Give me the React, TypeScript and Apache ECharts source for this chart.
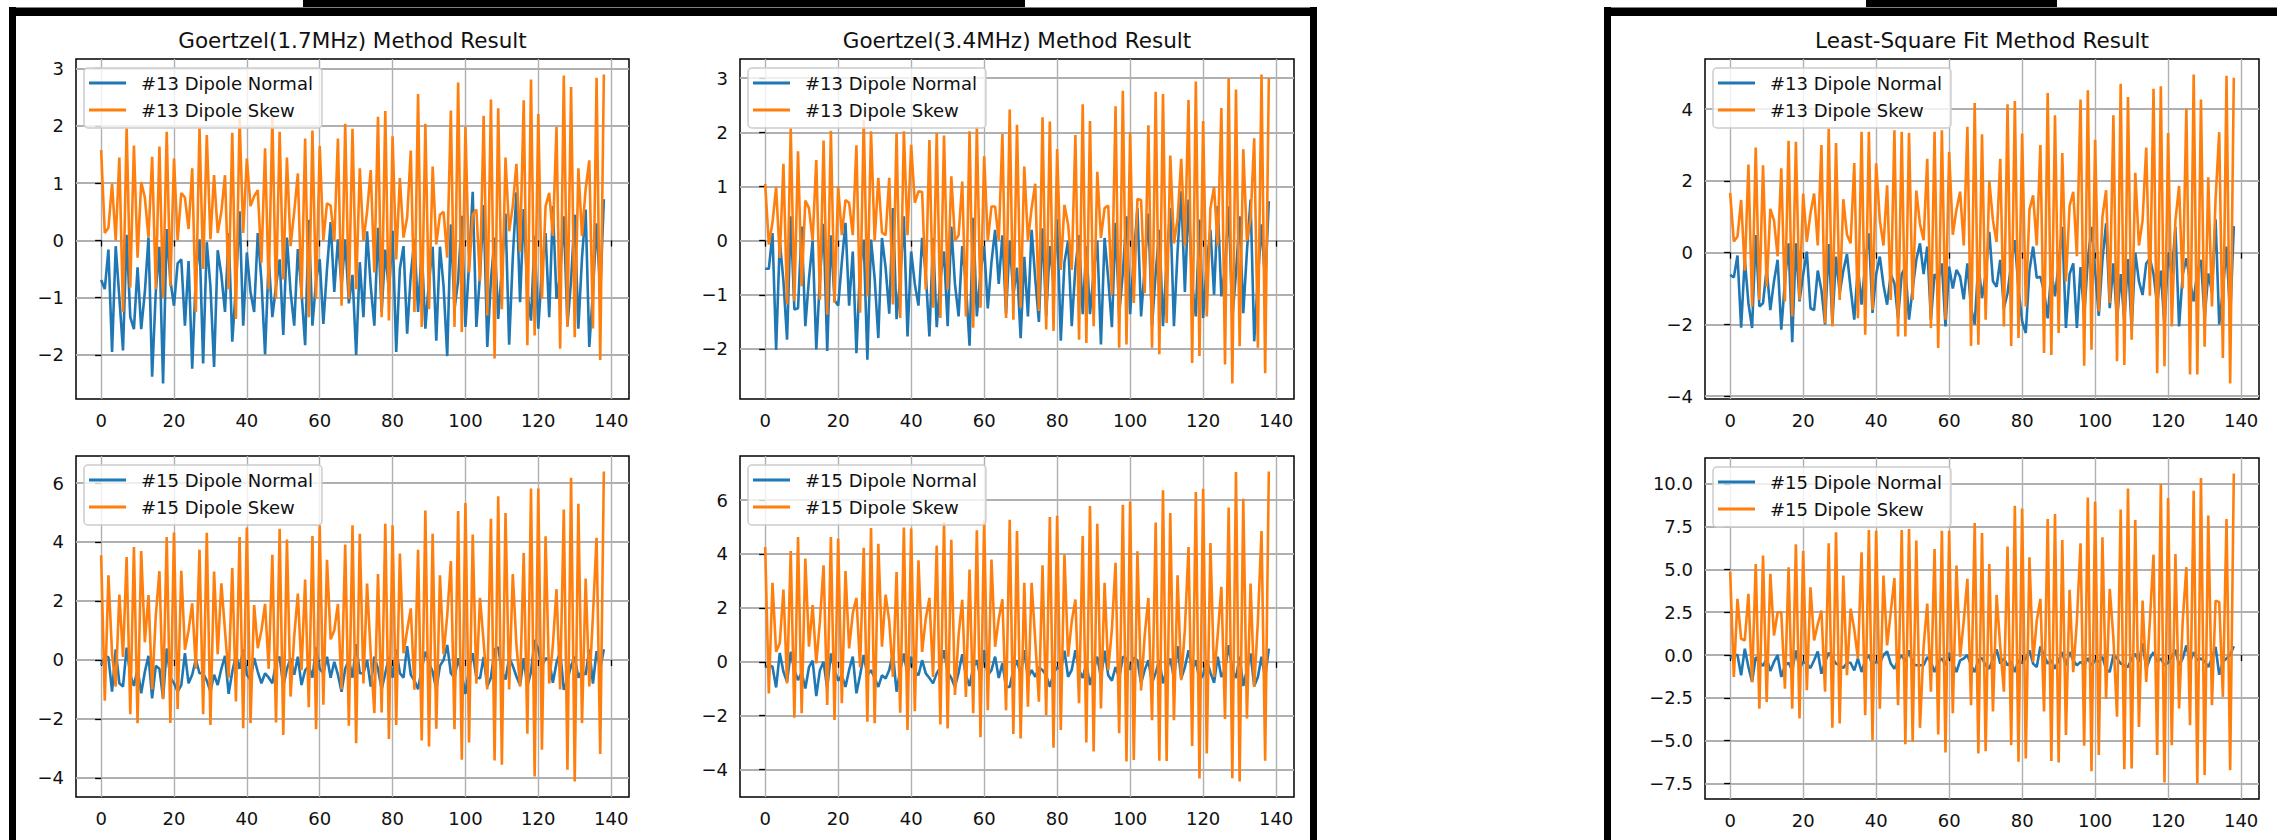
import React, { useEffect, useRef } from "react";
import * as echarts from "echarts";

const xTicks = [0, 20, 40, 60, 80, 100, 120, 140];
const yTicks1 = [-2, -1, 0, 1, 2, 3];
const yTicks2 = [-2, -1, 0, 1, 2, 3];
const yTicks3 = [-4, -2, 0, 2, 4];
const yTicks4 = [-4, -2, 0, 2, 4, 6];
const yTicks5 = [-4, -2, 0, 2, 4, 6];
const yTicks6 = [-7.5, -5, -2.5, 0, 2.5, 5, 7.5, 10];

const titles = [
  "Goertzel(1.7MHz) Method Result",
  "Goertzel(3.4MHz) Method Result",
  "Least-Square Fit Method Result",
];
const names13 = ["#13 Dipole Normal", "#13 Dipole Skew"];
const names15 = ["#15 Dipole Normal", "#15 Dipole Skew"];

const p1Skew = [1.58,0.13,0.22,0.99,0.0,1.45,-1.25,1.98,-0.82,1.66,
 -0.3,1.02,0.75,0.05,1.46,-0.85,1.64,-1.0,1.90,-0.8,
 1.43,0.0,0.83,0.75,0.2,1.26,-1.25,1.98,-0.5,1.84,
 0.02,1.14,0.13,0.5,1.14,-0.85,1.88,-1.37,2.13,0.13,
 1.43,0.6,0.77,0.88,-0.39,1.61,-0.85,2.16,-1.02,1.90,
 -0.68,1.45,-0.1,0.5,1.17,-1.02,1.78,-1.34,1.92,-1.02,
 1.65,0.0,0.65,0.61,-0.01,1.78,-1.14,2.04,-1.02,1.95,
 -0.85,1.26,-0.01,0.5,1.23,-0.56,2.16,-1.34,2.26,-1.40,
 1.82,-0.33,1.09,0.05,0.4,1.57,-1.25,2.56,-1.51,2.04,
 -1.20,1.29,-0.07,0.45,0.5,-0.3,2.27,-1.51,2.76,-1.60,
 1.98,-0.56,0.45,0.54,-0.71,2.18,-1.31,2.46,-2.06,2.31,
 -1.20,1.45,0.16,0.6,1.34,-0.2,2.45,-1.83,2.81,-1.66,
 2.21,-1.02,0.6,0.83,0.08,1.98,-1.89,2.88,-1.51,2.68,
 -1.69,1.26,0.08,0.9,1.40,-1.54,2.84,-2.09,2.9];
const p1Normal = [-0.69,-0.85,-0.16,-1.95,-0.1,-1.0,-1.92,0.1,-1.34,-1.55,
 -0.47,-1.55,-0.9,0.05,-2.38,-0.9,-0.11,-2.50,0.2,-0.7,
 -1.14,-0.4,-0.33,-1.49,-0.36,-2.24,-0.6,0.02,-2.15,-0.03,
 -0.8,-2.21,-0.17,-0.6,-1.25,0.13,-1.77,-0.8,0.51,-1.49,
 -0.21,-0.9,-1.25,0.13,-0.7,-1.99,-0.33,-1.34,-0.8,-0.33,
 -1.65,0.05,-0.9,-1.49,-0.15,-0.9,-1.83,0.36,-1.49,-0.7,
 -0.33,-1.46,-0.5,0.32,-0.9,0.02,-0.79,0.02,-1.1,-0.6,
 -2.0,-0.38,-1.34,0.16,-0.8,-1.49,0.22,-1.25,-0.16,-0.9,
 0.17,-1.95,-0.5,-0.1,-1.63,-0.6,0.02,-1.25,-0.13,-1.54,
 -0.7,-0.11,-1.75,-0.11,-0.8,-2.02,0.28,-1.20,-0.7,0.43,
 -1.51,-0.4,0.85,-1.51,-0.6,0.62,-1.86,-0.7,0.05,-1.37,
 -0.5,0.47,-1.82,-0.3,0.84,-1.08,0.55,-0.9,-1.40,0.08,
 -1.54,-0.5,0.13,-1.34,0.6,-1.02,-0.6,0.42,-1.49,-0.7,
 0.45,-1.54,-0.3,0.54,-1.86,-0.9,0.3,-0.91,0.72];

const p2Skew = [1.05,-0.07,0.33,0.99,-0.32,1.42,-1.18,2.08,-1.12,1.65,
 -0.84,0.74,0.6,0.0,1.49,-1.09,1.85,-1.37,2.03,-1.15,
 1.0,0.1,0.75,0.7,0.1,1.76,-1.33,2.23,-1.03,2.02,
 0.0,1.16,0.15,0.1,1.16,-1.18,1.99,-1.43,2.02,0.1,
 1.77,0.7,0.91,0.9,-0.9,1.86,-1.24,1.99,-1.43,1.94,
 -0.9,1.19,0.0,0.1,1.09,-1.40,2.02,-1.61,2.11,-1.24,
 1.56,0.0,0.63,0.63,0.0,1.97,-1.43,2.42,-1.46,2.14,
 -1.24,1.37,0.0,0.6,1.05,-1.30,2.28,-1.64,2.20,-1.67,
 1.69,-0.54,0.66,0.3,-0.54,1.95,-1.83,2.52,-1.89,2.21,
 -1.58,1.27,0.05,0.6,0.65,-1.0,2.48,-1.98,2.77,-1.92,
 2.0,-1.15,0.77,0.75,-0.97,2.13,-1.98,2.75,-2.10,2.71,
 -1.52,1.57,-0.05,0.4,1.51,-0.1,2.6,-2.26,2.94,-2.13,
 2.21,-1.40,0.6,0.99,-0.1,2.45,-2.29,3.0,-2.64,2.79,
 -1.95,1.69,0.0,0.4,1.89,-1.98,3.07,-2.45,3.0];
const p2Normal = [-0.52,-0.52,0.14,-2.02,0.0,-0.75,-1.83,0.45,-1.27,-1.25,
 0.26,-1.58,-0.7,0.0,-2.01,-0.7,0.31,-2.04,0.1,-1.1,
 -1.2,-0.4,0.33,-1.2,-0.2,-2.08,-0.5,0.02,-2.2,0.02,
 -0.7,-1.8,0.05,-0.5,-1.35,0.6,-1.45,-0.7,0.45,-1.77,
 -0.2,-0.8,-1.2,0.05,-0.6,-1.77,0.05,-1.6,-0.7,-0.2,
 -1.58,0.26,-0.8,-1.4,-0.1,-0.8,-1.94,0.42,-1.4,-0.6,
 -0.1,-1.25,-0.4,0.2,-0.8,0.1,-1.35,0.0,-1.0,-0.5,
 -1.8,-0.3,-1.4,0.2,-0.7,-1.5,0.23,-1.4,-0.1,-0.8,
 0.39,-1.85,-0.4,0.0,-1.58,-0.5,0.1,-1.36,-0.1,-1.36,
 -0.6,0.0,-1.92,0.05,-0.7,-1.6,0.33,-1.36,-0.6,0.45,
 -1.36,-0.3,0.6,-1.4,-0.5,0.5,-1.58,-0.6,0.2,-1.58,
 -0.4,0.6,-1.58,-0.2,0.91,-0.95,0.76,-0.8,-1.4,0.39,
 -1.43,-0.4,0.2,-1.0,0.64,-1.03,-0.5,0.64,-1.43,-0.6,
 0.45,-1.34,-0.2,0.76,-1.86,-0.7,0.3,-0.8,0.73];

const p3Skew = [1.67,0.31,0.45,1.47,-0.5,2.46,-1.5,2.93,-1.32,2.44,
 -0.95,1.22,0.9,-0.1,2.35,-1.36,3.12,-1.78,3.09,-1.32,
 1.65,0.3,1.1,1.65,0.2,3.0,-1.97,3.46,-2.06,3.06,
 -1.32,1.49,0.5,0.26,2.5,-1.83,3.37,-2.29,3.37,-1.6,
 2.49,0.9,0.2,1.88,-1.32,3.41,-2.34,3.37,-2.34,3.34,
 -1.32,1.73,0.8,0.35,2.62,-2.1,3.37,-2.66,3.41,-1.87,
 2.81,0.5,1.2,1.70,0.2,3.51,-2.6,4.17,-2.57,3.30,
 -1.87,2.0,0.9,0.3,2.62,-2.06,4.14,-2.6,4.23,-2.38,
 3.32,-1.5,1.2,1.6,0.2,3.0,-2.8,4.45,-2.85,3.83,
 -2.24,2.78,-0.8,1.3,1.7,-0.1,4.27,-3.15,4.53,-2.71,
 3.15,-1.64,1.0,1.74,-1.4,3.83,-3.03,4.71,-3.13,4.34,
 -2.43,2.23,0.2,0.9,2.93,-1.2,4.57,-3.36,4.64,-3.17,
 3.34,-2.06,0.9,1.86,-1.0,4.02,-3.40,4.97,-3.40,4.27,
 -2.62,2.1,-1.5,1.5,3.36,-2.94,4.93,-3.65,4.88];
const p3Normal = [-0.62,-0.69,-0.08,-2.09,-0.17,-1.41,-2.10,0.49,-1.50,-1.41,
 -0.44,-1.6,-0.8,-0.2,-2.15,-0.8,0.26,-2.5,0.26,-1.36,
 -0.6,0.03,-1.55,-1.60,-0.5,-1.04,-2.0,0.24,-1.97,-0.11,
 -1.13,-0.5,-0.04,-1.0,-1.87,-0.4,-1.45,-0.3,0.54,-1.68,
 -0.6,-0.11,-0.9,-1.45,-0.6,-0.85,-1.83,-0.6,-0.4,-1.87,
 -1.0,-0.2,0.26,-0.6,0.17,-1.87,-0.6,-0.8,-0.3,-2.06,
 -0.39,-1.0,-0.48,-0.67,-1.3,-0.3,-1.55,-2.0,-0.3,-1.27,
 -0.6,0.58,-0.8,-0.95,-0.2,-1.55,-1.13,-0.3,0.35,-1.0,
 -1.92,-2.24,-0.5,0.17,-0.7,-0.67,-1.08,-1.83,-0.5,-1.22,
 -0.3,0.72,-2.1,-0.6,-0.3,-2.1,-0.4,-1.78,-0.2,0.72,
 -0.5,-1.76,-0.2,0.82,-1.55,-0.3,-1.92,-0.6,-1.9,-0.18,
 -2.15,0.0,-0.8,-1.18,-0.3,-0.16,-0.6,-1.45,-0.5,-2.06,
 -0.02,-0.6,0.72,-2.06,-0.6,-0.16,-0.8,-1.36,-0.5,-0.2,
 -1.83,-0.58,-1.08,0.93,-2.0,-1.04,0.17,-1.83,0.74];

const p4Skew = [3.55,-1.38,2.87,0.2,-0.9,2.22,0.1,3.49,-1.84,3.83,
 -2.14,3.69,0.6,2.2,-1.0,1.5,3.01,-1.33,4.17,-2.14,
 4.32,-1.66,3.02,0.35,1.0,1.92,-0.3,3.74,-1.84,4.31,
 -2.2,3.0,0.2,2.6,1.0,-0.6,3.12,-1.41,4.17,-2.31,
 4.49,-2.14,1.86,0.4,1.0,1.9,-0.3,3.57,-2.12,4.45,
 -2.54,4.08,-1.24,0.8,2.25,-0.35,2.73,-1.6,4.2,-2.35,
 4.57,-1.52,3.4,0.7,1.0,1.9,-1.0,3.91,-2.23,4.57,
 -2.82,4.28,-0.8,2.59,0.2,-1.8,2.91,-1.78,4.62,-2.68,
 4.57,-2.2,3.61,0.23,1.0,1.75,-1.01,3.74,-2.73,5.07,
 -2.93,4.28,-2.33,2.87,0.2,1.5,3.35,-2.35,5.05,-3.38,
 5.32,-2.8,4.25,-0.8,2.11,0.6,-1.0,4.79,-3.41,5.55,
 -3.55,4.98,-1.0,2.91,0.5,-0.9,3.63,-2.5,5.81,-3.95,
 5.81,-3.04,4.19,-0.8,0.5,2.40,-1.0,5.1,-3.72,6.18,
 -4.12,5.3,-2.14,2.76,-0.9,1.5,4.14,-3.19,6.39];
const p4Normal = [-0.17,0.11,0.1,-1.07,0.36,-0.79,-0.9,0.42,-0.51,-0.88,
 -0.3,-1.13,-0.4,0.14,-1.3,-0.2,-0.3,-1.3,0.39,-0.6,
 -0.79,-1.07,-0.85,0.23,-0.79,-0.5,0.02,-0.45,-0.45,-0.7,
 -1.07,-0.5,-0.85,-0.3,0.14,-1.15,-0.4,0.16,-0.3,0.36,
 -0.5,-0.68,0.06,-0.4,-0.79,-0.45,-0.6,-0.79,-0.1,0.11,
 -0.9,-0.3,0.06,-0.5,0.11,-0.85,-0.35,-0.2,-0.6,0.43,
 -0.3,-0.45,0.11,-0.6,-0.06,-0.5,-1.08,-0.3,0.0,-0.6,
 0.54,-0.45,-0.45,0.0,-0.9,0.11,-0.3,-1.0,-0.45,0.1,
 -0.6,0.36,-0.45,-0.6,0.47,-0.5,-0.7,-0.99,-0.3,0.28,
 -0.1,-0.4,-1.01,-0.2,0.0,0.51,-0.45,-0.6,0.06,-0.5,
 -1.15,-0.3,0.23,-0.6,-0.62,0.1,-0.9,-0.6,0.36,0.43,
 -0.4,-0.66,0.08,-0.2,-0.56,-0.85,0.06,-0.9,-0.4,0.68,
 0.36,-0.2,0.06,0.0,-0.77,-0.1,0.28,-1.01,-0.68,-0.2,
 0.11,-0.6,-0.35,-0.5,0.36,-0.8,0.3,-0.3,0.36];

const p5Skew = [4.26,-1.17,2.93,0.37,0.7,2.68,-0.8,4.11,-2.07,4.63,
 -1.91,3.83,0.56,2.1,-0.06,1.5,3.58,-1.6,4.63,-2.16,
 4.57,-1.54,3.37,0.5,1.8,2.37,-0.2,4.23,-2.22,4.96,
 -2.28,4.38,0.56,2.49,1.5,-0.56,3.33,-1.89,4.98,-2.53,
 4.94,-1.83,3.77,0.37,1.6,2.37,-0.56,4.31,-2.32,5.19,
 -2.47,4.53,-1.23,1.0,2.3,-1.3,3.42,-1.91,4.88,-2.8,
 5.25,-1.8,3.79,0.56,1.6,2.32,-1.8,5.27,-2.68,4.85,
 -2.84,2.93,-1.67,2.93,0.8,-1.48,3.58,-1.98,5.37,-3.19,
 5.42,-2.53,3.98,0.19,1.5,2.31,-1.54,4.67,-2.99,5.78,
 -3.33,5.12,-1.73,2.93,-0.31,1.2,3.67,-2.65,5.83,-3.7,
 5.95,-3.64,4.10,-1.06,1.0,2.37,-2.17,5.17,-3.67,6.36,
 -3.68,5.52,-2.17,3.21,-0.68,1.2,4.26,-3.12,6.3,-4.33,
 6.42,-3.4,4.41,-0.56,1.0,2.78,-2.12,5.72,-4.32,7.04,
 -4.44,6.05,-2.1,2.9,-0.93,1.5,4.85,-3.67,7.06];
const p5Normal = [-0.21,-0.12,-0.18,-0.95,0.33,-0.37,-0.74,0.37,-0.31,-0.68,
 -0.4,-0.99,-0.2,0.04,-1.27,-0.31,0.0,-0.99,0.31,-0.31,
 -0.7,-0.5,-0.93,-0.3,0.19,-1.17,-0.5,0.25,-0.49,-0.31,
 -0.6,-0.93,-0.5,-0.62,-0.3,0.31,-1.11,-0.3,0.31,-0.5,
 0.19,-0.37,-0.5,0.06,-0.43,-0.6,-0.8,-0.43,-0.2,0.43,
 -0.37,-0.6,-0.93,-0.4,0.28,-0.5,-0.9,-0.2,0.06,-0.6,
 0.43,-0.5,-0.31,0.19,-0.6,-0.06,-0.93,-0.93,-0.3,0.06,
 -0.5,0.43,-0.6,-0.31,-0.56,-0.2,-0.31,-0.5,-0.93,-0.43,
 -0.2,-0.3,0.41,-0.56,-0.3,0.43,-0.31,-0.6,-0.06,-0.86,
 -0.3,0.19,-0.6,0.41,-0.5,-0.7,-0.2,-0.6,0.19,0.12,
 -0.3,0.16,0.06,-0.8,-0.3,0.06,-0.8,-0.4,0.06,-0.8,
 -0.3,0.12,-0.6,0.58,-0.62,-0.2,0.43,-0.3,0.06,-0.68,
 -0.49,0.06,-0.4,-0.78,0.19,-0.56,-0.3,0.62,-0.31,-0.6,
 0.19,-0.9,-0.3,0.31,-0.9,-0.56,0.19,-0.6,0.49];

const p6Skew = [4.87,-1.28,3.28,0.95,0.85,3.57,-1.57,5.32,-3.13,5.81,
 -2.74,4.74,1.14,2.5,2.5,-1.96,5.13,-3.13,6.47,-3.71,
 6.08,-2.06,3.96,0.85,1.8,2.6,-2.14,6.52,-4.25,7.17,
 -4.0,4.64,-1.18,2.7,1.5,-0.2,6.0,-3.51,7.3,-4.97,
 7.26,-3.13,4.64,0.56,2.5,4.49,-2.93,7.3,-5.2,7.36,
 -5.07,6.68,-4.25,0.5,3.0,-2.14,6.19,-4.64,7.26,-5.69,
 7.26,-3.4,5.22,-0.12,2.0,4.45,-2.93,7.71,-5.75,7.13,
 -5.61,5.32,-3.3,3.51,0.5,-2.14,6.33,-5.26,8.72,-6.23,
 8.56,-6.04,5.71,-0.4,2.0,3.28,-3.3,7.94,-6.19,8.23,
 -6.27,6.72,-4.66,3.81,-1.0,2.0,6.52,-5.3,9.2,-6.78,
 8.95,-5.84,6.87,-2.56,3.86,1.0,-3.6,8.49,-6.66,9.73,
 -6.62,7.88,-4.2,3.18,-1.57,2.0,5.86,-5.84,9.98,-7.44,
 9.17,-5.26,5.9,-3.12,2.0,5.13,-4.1,9.59,-7.5,10.33,
 -7.01,8.14,-2.93,3.18,3.09,-2.44,7.94,-6.72,10.6];
const p6Normal = [-0.17,0.0,0.0,-1.18,0.37,-0.7,-1.57,-0.12,-0.4,-0.64,
 -0.2,-0.93,-0.4,0.0,-1.28,-0.6,-0.45,-0.9,0.27,-0.8,
 -0.4,-0.5,-0.76,-0.3,0.21,-1.09,-0.4,0.14,-0.17,-0.5,
 -0.6,-0.76,-0.45,-0.45,-0.9,-0.2,-0.99,-0.3,0.0,-0.6,
 -0.37,-0.5,0.0,0.21,-0.5,-0.8,-0.3,0.0,-0.4,0.27,
 -0.5,-0.6,-0.6,-0.6,-0.12,-0.4,-0.99,-0.4,-0.2,-0.6,
 0.12,-0.5,-0.99,-0.31,-0.2,0.0,-0.6,-0.99,-0.3,-0.17,
 -0.6,-0.8,-0.2,0.33,-0.5,-0.2,-0.6,-0.4,-0.99,-0.3,
 -0.47,-0.2,0.27,-0.5,-0.7,0.5,-0.02,-0.5,-0.3,-0.8,
 -0.3,0.17,-0.6,0.17,-0.3,-0.6,-0.4,-0.6,-0.17,-0.6,
 -0.31,-0.4,-0.1,-0.84,-0.99,0.0,-0.2,-0.5,-0.6,-0.7,
 -0.2,0.08,-0.4,0.7,-0.8,-0.2,0.17,-0.4,-0.2,-0.6,
 -0.45,-0.1,0.31,-0.6,-0.2,0.56,-0.4,0.17,-0.3,-0.2,
 -0.37,-0.7,-0.2,0.47,-1.15,-0.4,-0.2,0.0,0.52];

const panels = [
  { normal: p1Normal, skew: p1Skew, names: names13, yTicks: yTicks1, decimals: 0 },
  { normal: p2Normal, skew: p2Skew, names: names13, yTicks: yTicks2, decimals: 0 },
  { normal: p3Normal, skew: p3Skew, names: names13, yTicks: yTicks3, decimals: 0 },
  { normal: p4Normal, skew: p4Skew, names: names15, yTicks: yTicks4, decimals: 0 },
  { normal: p5Normal, skew: p5Skew, names: names15, yTicks: yTicks5, decimals: 0 },
  { normal: p6Normal, skew: p6Skew, names: names15, yTicks: yTicks6, decimals: 1 },
];

const layout = [
  { left: 76, top: 59, width: 553, height: 340 },
  { left: 740, top: 59, width: 554, height: 340 },
  { left: 1705, top: 59, width: 554, height: 340 },
  { left: 76, top: 456, width: 553, height: 341 },
  { left: 740, top: 456, width: 554, height: 341 },
  { left: 1705, top: 458, width: 554, height: 341 },
];

const FONT = "DejaVu Sans";
const BLUE = "#1f77b4";
const ORANGE = "#ff7f0e";
const GRIDC = "#b0b0b0";
const N = 139;

function fmt(v: number, d: number) {
  return (d ? v.toFixed(d) : String(v)).replace("-", "\u2212");
}

export default function App() {
  const ref = useRef<HTMLDivElement>(null);
  useEffect(() => {
    if (!ref.current) return;
    const chart = echarts.init(ref.current, null, { renderer: "svg" });
    const xMin = -0.05 * (N - 1);
    const xMax = (N - 1) * 1.05;

    const grid = layout.map((g) => ({
      left: g.left, top: g.top, width: g.width, height: g.height,
      show: true, borderColor: "#000", borderWidth: 1.5, backgroundColor: "rgba(0,0,0,0)",
    }));

    const xAxis = panels.map((p, i) => ({
      type: "value", gridIndex: i, min: xMin, max: xMax,
      axisLine: { show: false },
      axisTick: { show: true, length: 6, lineStyle: { color: "#000", width: 1.3 }, customValues: xTicks },
      axisLabel: { customValues: xTicks, margin: 12, fontSize: 18, fontFamily: FONT, color: "#111" },
      splitLine: { show: true, lineStyle: { color: GRIDC, width: 1.4 } },
    }));

    const yAxis = panels.map((p, i) => {
      const all = p.normal.concat(p.skew);
      const lo = Math.min(...all);
      const hi = Math.max(...all);
      const pad = 0.05 * (hi - lo);
      return {
        type: "value", gridIndex: i, min: lo - pad, max: hi + pad,
        axisLine: { show: false },
        axisTick: { show: true, length: 6, lineStyle: { color: "#000", width: 1.3 }, customValues: p.yTicks },
        axisLabel: {
          customValues: p.yTicks, margin: 12, fontSize: 18, fontFamily: FONT, color: "#111",
          formatter: (v: number) => fmt(v, p.decimals),
        },
        splitLine: { show: true, lineStyle: { color: GRIDC, width: 1.8 } },
      };
    });

    const series: any[] = [];
    panels.forEach((p, i) => {
      series.push({
        type: "line", name: p.names[0], xAxisIndex: i, yAxisIndex: i,
        data: p.normal.map((v, k) => [k, v]), showSymbol: false, symbol: "none",
        lineStyle: { width: 2.6, color: BLUE }, itemStyle: { color: BLUE },
      });
      series.push({
        type: "line", name: p.names[1], xAxisIndex: i, yAxisIndex: i,
        data: p.skew.map((v, k) => [k, v]), showSymbol: false, symbol: "none",
        lineStyle: { width: 2.6, color: ORANGE }, itemStyle: { color: ORANGE },
      });
    });

    const legend = panels.map((p, i) => ({
      data: p.names, left: layout[i].left + 8, top: layout[i].top + 9,
      orient: "vertical", icon: "rect", itemWidth: 37, itemHeight: 3, itemGap: 7,
      padding: [5, 9, 8, 5], backgroundColor: "rgba(255,255,255,0.8)",
      borderColor: "#cccccc", borderWidth: 1.5, borderRadius: 4, selectedMode: false,
      textStyle: { fontSize: 18, fontFamily: FONT, color: "#111", lineHeight: 20, padding: [0, 0, 0, 10] },
    }));

    const titleEls = titles.map((t, i) => ({
      type: "text",
      x: layout[i].left + layout[i].width / 2,
      y: 40,
      style: {
        text: t, fontSize: 21.5, fontFamily: FONT, fill: "#111",
        align: "center", verticalAlign: "middle", textAlign: "center", textVerticalAlign: "middle",
      },
    }));

    const frame = [
      { type: "rect", shape: { x: 303, y: 0, width: 722, height: 16 }, style: { fill: "#000" } },
      { type: "rect", shape: { x: 1866, y: 0, width: 191, height: 16 }, style: { fill: "#000" } },
      { type: "rect", shape: { x: 9, y: 7, width: 1308, height: 1 }, style: { fill: "#808080" } },
      { type: "rect", shape: { x: 9, y: 8, width: 1308, height: 8 }, style: { fill: "#000" } },
      { type: "rect", shape: { x: 9, y: 7, width: 7, height: 833 }, style: { fill: "#000" } },
      { type: "rect", shape: { x: 1310, y: 7, width: 7, height: 833 }, style: { fill: "#000" } },
      { type: "rect", shape: { x: 1604, y: 7, width: 673, height: 1 }, style: { fill: "#808080" } },
      { type: "rect", shape: { x: 1604, y: 8, width: 673, height: 8 }, style: { fill: "#000" } },
      { type: "rect", shape: { x: 1604, y: 7, width: 7, height: 833 }, style: { fill: "#000" } },
    ];

    chart.setOption({
      animation: false,
      backgroundColor: "#fff",
      grid, xAxis, yAxis, series, legend,
      graphic: { elements: [...frame, ...titleEls] },
    } as any);
    return () => chart.dispose();
  }, []);
  return <div ref={ref} style={{ position: "fixed", left: 0, top: 0, width: 2277, height: 840 }} />;
}
